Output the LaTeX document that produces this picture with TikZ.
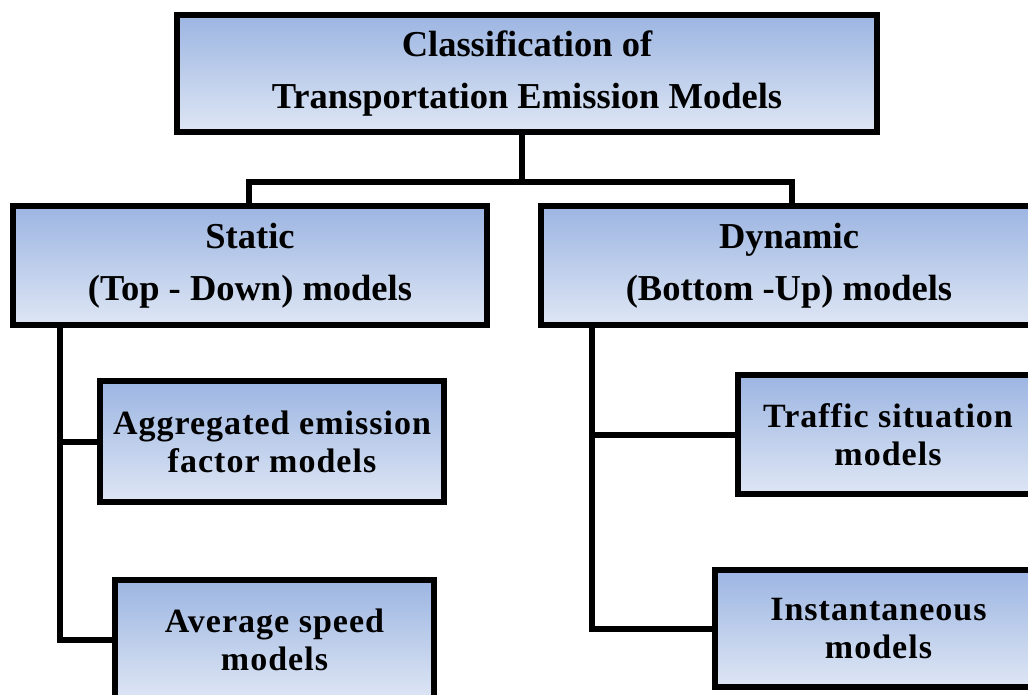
\documentclass[tikz,border=0pt]{standalone}
\usepackage{fontspec}
\setmainfont{Liberation Serif}
\begin{document}
\begin{tikzpicture}[
  x=1pt, y=1pt,
  every node/.style={inner sep=0pt, outer sep=0pt},
  box/.style={draw=black, line width=6pt, line join=miter, anchor=north west,
    top color=boxtop, bottom color=boxbottom, align=center},
  upper/.style={box, font=\fontsize{36.5}{52}\selectfont\bfseries},
  lower/.style={box, font=\fontsize{34}{38}\selectfont\bfseries\addfontfeature{LetterSpace=3}},
  link/.style={line width=6pt, line cap=rect, line join=miter},
]
\definecolor{boxtop}{RGB}{156,181,226}
\definecolor{boxbottom}{RGB}{222,230,244}
\useasboundingbox (0,0) rectangle (1028,-695);
\fill[white] (0,0) rectangle (1028,-695);

% root and the two families
\node[upper, minimum width=700pt, minimum height=117pt] (top) at (177,-15)
  {Classification of\\Transportation Emission Models};
\node[upper, minimum width=474pt, minimum height=119pt] (static) at (13,-206)
  {Static\\(Top - Down) models};
\node[upper, minimum width=496pt, minimum height=119pt] (dynamic) at (541,-206)
  {Dynamic\\(Bottom -Up) models};

% model types
\node[lower, minimum width=344pt, minimum height=121pt] (aggr) at (100,-381)
  {Aggregated emission\\factor models};
\node[lower, minimum width=319pt, minimum height=120pt] (avg) at (115,-580)
  {Average speed\\models};
\node[lower, minimum width=300pt, minimum height=119pt] (traffic) at (738,-375)
  {Traffic situation\\models};
\node[lower, minimum width=327pt, minimum height=117pt] (inst) at (715,-570)
  {Instantaneous\\models};

% connectors
\coordinate (j) at (522,-182);
\draw[link] ([xshift=-5pt]top.south) -- ([xshift=-5pt]top.south |- j);
\draw[link] ([xshift=-1pt]static.north) |- (j) -| ([xshift=3pt]dynamic.north);

\coordinate (ls) at ([xshift=47pt]static.south west);
\draw[link] (ls) |- (avg.west);
\draw[link] (aggr.west) -- (aggr.west -| ls);

\coordinate (rs) at ([xshift=51pt]dynamic.south west);
\draw[link] (rs) |- (inst.west);
\draw[link] (traffic.west) -- (traffic.west -| rs);
\end{tikzpicture}
\end{document}
